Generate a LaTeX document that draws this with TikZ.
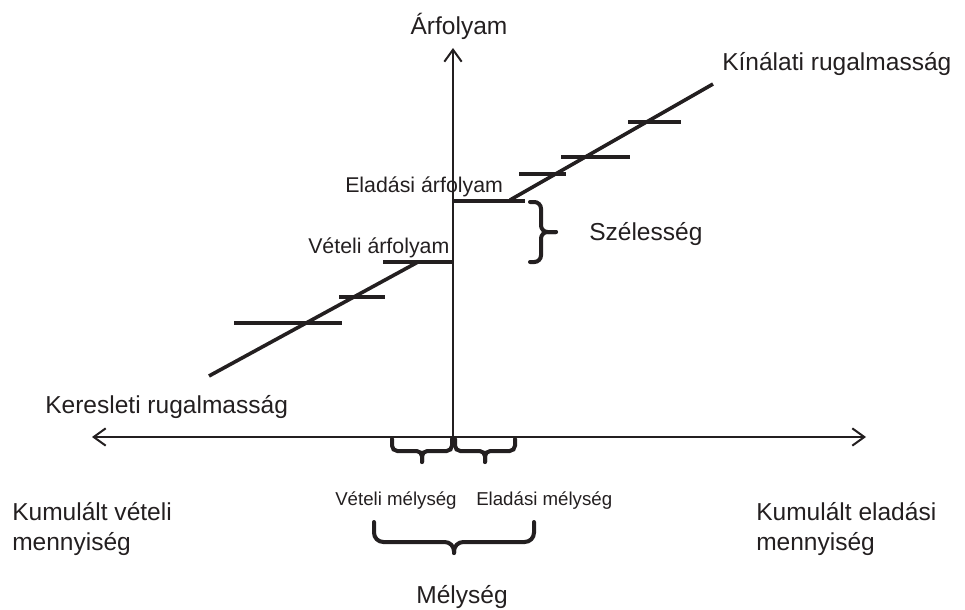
\documentclass[tikz,border=0pt]{standalone}
\usepackage{fontspec}
\setmainfont{Liberation Sans}
\usepackage{tikz}
\usetikzlibrary{arrows.meta,calc}
\definecolor{ink}{HTML}{231F20}

\begin{document}
\begin{tikzpicture}[x=0.75pt, y=-0.75pt, >={Straight Barb[length=9pt,width=13pt,line width=1.5pt]},
    axisline/.style={ink, line width=1.5pt},
    thickline/.style={ink, line width=2.7pt},
    bracefig/.style={ink, line width=3pt, line cap=round, rounded corners=#1},
    labbig/.style={ink, inner sep=0pt, font=\fontsize{18.4pt}{22.5pt}\selectfont},
    labmid/.style={ink, inner sep=0pt, font=\fontsize{16pt}{19pt}\selectfont},
    labsmall/.style={ink, inner sep=0pt, font=\fontsize{14pt}{17pt}\selectfont}]
    \useasboundingbox (0,0) rectangle (965,610);
    % axes
    \coordinate (origin) at (453,437);
    \coordinate (ytip) at (453,48);
    \coordinate (xleft) at (92,437);
    \coordinate (xright) at (866,437);
    \draw[axisline, ->] (origin) -- (ytip);
    \draw[axisline, <->] (xleft) -- (xright);
    \node[labbig, anchor=base] (price) at (459,35) {Árfolyam};
    % best bid and ask
    \coordinate (bid) at (383,262); \coordinate (bidaxis) at (453,262);
    \coordinate (ask) at (525,201); \coordinate (askaxis) at (453,201);
    \draw[thickline] (bid) -- (bidaxis);
    \draw[thickline] (askaxis) -- (ask);
    % supply and demand lines
    \coordinate (supstart) at (510,200); \coordinate (supend) at (713,84);
    \coordinate (demstart) at (209,376); \coordinate (demend) at (418,262);
    \draw[thickline] (supstart) -- (supend);
    \draw[thickline] (demstart) -- (demend);
    % order steps
    \foreach \xa/\xb/\y in {519/566/174, 561/630/157, 628/681/122, 339/385/297, 234/342/323}
      \draw[thickline] (\xa,\y) -- (\xb,\y);
    % labels
    \node[labbig, anchor=base west] (suplab) at (722,71) {Kínálati rugalmasság};
    \node[labbig, anchor=base west] (demlab) at (45,413) {Keresleti rugalmasság};
    \node[labmid, anchor=base west] (asklab) at (345,192) {Eladási árfolyam};
    \node[labmid, anchor=base west] (bidlab) at (308,253) {Vételi árfolyam};
    \node[labbig, anchor=base west] (spreadlab) at (589,240) {Szélesség};
    \node[labbig, anchor=base west, align=left] (buyqty) at (12,550) {Kumulált vételi\\mennyiség};
    \node[labbig, anchor=base west, align=left] (sellqty) at (756,550) {Kumulált eladási\\mennyiség};
    \node[labsmall, anchor=base west] (buydepth) at (335,505) {Vételi mélység};
    \node[labsmall, anchor=base west] (selldepth) at (476,505) {Eladási mélység};
    \node[labbig, anchor=base] (depthlab) at (462,603) {Mélység};
    % braces
    \draw[bracefig=5pt] (530,202) -- (541,202) -- (541,232) -- (556,232);
    \draw[bracefig=5pt] (530,262) -- (541,262) -- (541,232) -- (556,232);
    \foreach \xl/\xr/\y/\h/\t/\r in {392/452/439/12/23/4pt, 455/515/439/12/23/4pt, 374/534/522/20/31/7pt}{
      \draw[bracefig=\r] (\xl,\y) -- (\xl,{\y+\h}) -- ({(\xl+\xr)/2},{\y+\h}) -- ({(\xl+\xr)/2},{\y+\t});
      \draw[bracefig=\r] (\xr,\y) -- (\xr,{\y+\h}) -- ({(\xl+\xr)/2},{\y+\h}) -- ({(\xl+\xr)/2},{\y+\t});}
\end{tikzpicture}
\end{document}
